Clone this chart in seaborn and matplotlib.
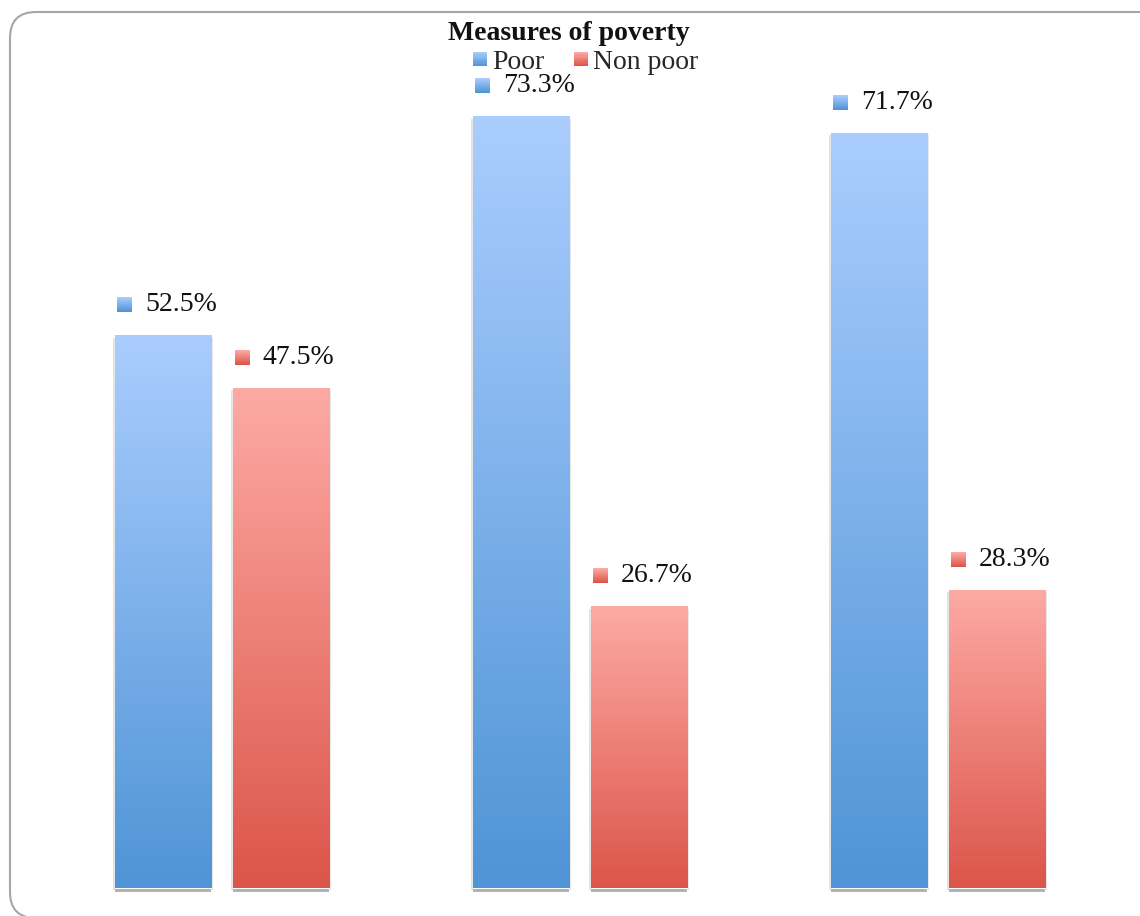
import numpy as np
import pandas as pd
import matplotlib
matplotlib.use("Agg")
import matplotlib.pyplot as plt
import seaborn as sns
from matplotlib.colors import LinearSegmentedColormap, to_rgb
from matplotlib.patches import FancyBboxPatch, Rectangle, Patch
from matplotlib.legend_handler import HandlerBase
from matplotlib.offsetbox import OffsetImage, AnnotationBbox
import matplotlib.patheffects as pe

# ---- data ----
measures = ["Measure 1", "Measure 2", "Measure 3"]
poor = [52.5, 73.3, 71.7]
non_poor = [47.5, 26.7, 28.3]
series = ["Poor", "Non poor"]
title = "Measures of poverty"

# gradient colours (top, bottom)
grad = {"Poor": ("#AACDFE", "#4F94D6"), "Non poor": ("#FDAAA4", "#DC554A")}

df = pd.DataFrame({
    "measure": measures * 2,
    "group": ["Poor"] * 3 + ["Non poor"] * 3,
    "value": poor + non_poor,
})

sns.set_theme(style="white")
plt.rcParams["font.family"] = ["Liberation Serif", "DejaVu Serif"]

W, H = 1140, 916
fig = plt.figure(figsize=(W / 100, H / 100), dpi=100)
ax = fig.add_axes([43 / W, 28 / H, 1074 / W, 842 / H])

sns.barplot(data=df, x="measure", y="value", hue="group", hue_order=series,
            order=measures, palette={k: v[1] for k, v in grad.items()},
            width=0.66, gap=0.186, dodge=True, ax=ax, legend=False,
            errorbar=None)

ax.set_xlim(-0.5, 2.5)
ax.set_ylim(0, 80)
ax.axis("off")


def cmap_for(name):
    top, bot = grad[name]
    return LinearSegmentedColormap.from_list(name, [bot, top])


def grad_img(name, n=64):
    top, bot = np.array(to_rgb(grad[name][0])), np.array(to_rgb(grad[name][1]))
    t = np.linspace(0, 1, n)[:, None]
    col = top * (1 - t) + bot * t
    return np.repeat(col[:, None, :], n, axis=1)


patches = ax.patches
n = len(measures)
for i, p in enumerate(patches):
    name = series[i // n]
    x, w, h = p.get_x(), p.get_width(), p.get_height()
    p.set_clip_on(False)
    p.set_path_effects([
        pe.SimplePatchShadow(offset=(0, -3), shadow_rgbFace="#555555", alpha=0.45),
        pe.SimplePatchShadow(offset=(1.2, -1.5), shadow_rgbFace="#888888", alpha=0.25),
        pe.SimplePatchShadow(offset=(-1.2, -1.5), shadow_rgbFace="#888888", alpha=0.25),
        pe.Normal()])
    ax.imshow(np.linspace(0, 1, 256)[:, None], cmap=cmap_for(name), origin="lower",
              extent=[x, x + w, 0, h], aspect="auto", zorder=p.get_zorder() + 0.1,
              clip_path=p, clip_on=True, interpolation="bicubic")
    # label marker + text
    val = h
    ib = OffsetImage(grad_img(name, 15), zoom=0.72)
    ab = AnnotationBbox(ib, (x, val), xybox=(9.5, 31), xycoords="data",
                        boxcoords="offset pixels", frameon=False, pad=0)
    ax.add_artist(ab)
    ax.annotate(f"{val:.1f}%", (x, val), xytext=(30, 31), textcoords="offset pixels",
                ha="left", va="center", fontsize=20, color="#111111")

ax.set_xlim(-0.5, 2.5)
ax.set_ylim(0, 80)


class GradHandler(HandlerBase):
    def __init__(self, name):
        super().__init__()
        self.name = name

    def create_artists(self, legend, orig_handle, xdescent, ydescent, width, height, fontsize, trans):
        top, bot = np.array(to_rgb(grad[self.name][0])), np.array(to_rgb(grad[self.name][1]))
        s = 10.2  # points (~14 px)
        x0 = -xdescent + (width - s) / 2
        y0 = -ydescent + (height - s) / 2
        arts = []
        k = 12
        for j in range(k):
            t = j / (k - 1)
            c = bot * (1 - t) + top * t
            arts.append(Rectangle((x0, y0 + s * j / k), s, s / k + 0.2, facecolor=c,
                                  edgecolor="none", transform=trans))
        return arts


handles = [Patch(label=s) for s in series]
fig.legend(handles=handles, labels=series, ncol=2, loc="center",
           bbox_to_anchor=(585 / W, 1 - 62 / H), frameon=False, fontsize=20,
           handler_map={handles[0]: GradHandler("Poor"), handles[1]: GradHandler("Non poor")},
           handlelength=0.6, handletextpad=0.15, columnspacing=1.0, borderpad=0)

fig.text(569 / W, 1 - 33 / H, title, ha="center", va="center", fontsize=20,
         fontweight="bold", color="#111111")

frame = FancyBboxPatch((10, -2), 1300, 906, boxstyle="round,pad=0,rounding_size=26",
                       transform=None, facecolor="none", edgecolor="#A6A6A6", linewidth=1.5)
fig.patches.append(frame)

fig.savefig("out.png", dpi=100)
